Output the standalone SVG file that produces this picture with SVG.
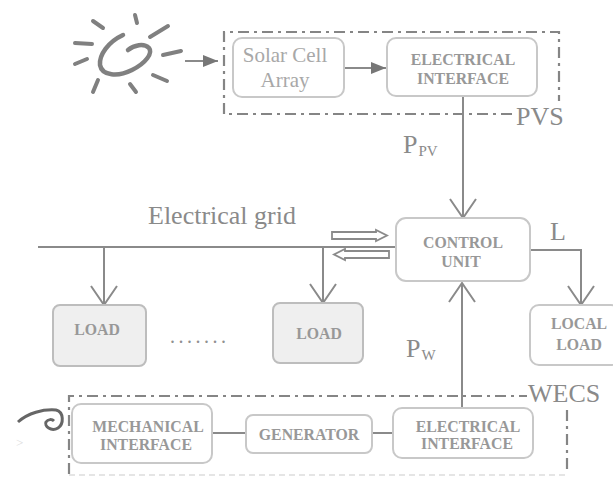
<svg xmlns="http://www.w3.org/2000/svg" width="613" height="478" viewBox="0 0 613 478">
<defs>
<marker id="v" markerUnits="userSpaceOnUse" markerWidth="30" markerHeight="30" refX="26" refY="15" orient="auto"><path d="M7 2L26 15L7 28" fill="none" stroke="#8a8a8a" stroke-width="2"/></marker>
<marker id="t" markerUnits="userSpaceOnUse" markerWidth="18" markerHeight="14" refX="16" refY="7" orient="auto"><path d="M1 1L16 7L1 13Z" fill="#777"/></marker>
</defs>
<style>
text{font-family:"Liberation Serif",serif;fill:#777}
.b{font-size:15.8px;font-weight:bold;text-anchor:middle;fill:#989898}
.l{font-size:26px;fill:#8a8a8a}
.sub{font-size:15px}
.box{fill:#fff;stroke:#c8c8c8;stroke-width:2}
.gray{fill:#efefef;stroke:#bdbdbd;stroke-width:2}
.c{fill:none;stroke:#8a8a8a;stroke-width:2}
.d{fill:none;stroke:#858585;stroke-width:2.2;stroke-dasharray:11 5 3 5}
.dbl{fill:#fff;stroke:#8a8a8a;stroke-width:1.8}
.sun{fill:none;stroke:#808080;stroke-width:4;stroke-linecap:round}
</style>
<g id="sun">
<path class="sun" style="stroke-width:4.500" d="M123 35C108 42 99 55 100 65C102 76 118 77 132 70C146 63 153 53 149 48C144 43 134 45 128 50"/>
<path class="sun" d="M135 15L137 23M93 21L103 28M168 26L150 37M75 43L92 44M163 55L181 51M75 64L87 59M153 75L167 81M98 80L93 92M130 84L136 92"/>
</g>
<g id="pvs">
<path class="d" d="M512 114H224V32H559V101"/>
<text x="516" y="125" class="l">PVS</text>
</g>
<g id="wecs">
<path class="d" d="M69 474V396H527"/>
<path class="d" d="M567 410V474"/>
<path d="M69 475H567" fill="none" stroke="#ddd" stroke-width="1.500" stroke-dasharray="6 4"/>
<text x="528" y="402" class="l">WECS</text>
</g>
<g id="wind">
<path d="M18 422C28 413 43 409 56 410C64 412 64 424 58 428C51 432 44 426 46 422C48 419 52 419 54 421" fill="none" stroke="#666" stroke-width="3"/>
<text x="16" y="447" style="font-size:13px;fill:#ddd">&gt;</text>
</g>
<g id="connectors">
<path class="c" d="M344 68H386" marker-end="url(#t)"/>
<path class="c" d="M185 61H218" marker-end="url(#t)"/>
<path class="c" d="M463 97V218" marker-end="url(#v)"/>
<path class="c" d="M38 247H396"/>
<path class="c" d="M104 247V305" marker-end="url(#v)"/>
<path class="c" d="M323 247V303" marker-end="url(#v)"/>
<path class="c" d="M530 250H581V305" marker-end="url(#v)"/>
<path class="c" d="M462 408V283" marker-end="url(#v)"/>
<path class="c" d="M212 433H247M372 433H393"/>
<path class="dbl" d="M332 232H376V230L387 235.500L376 241V239H332Z"/>
<path class="dbl" d="M389 251H345V249L334 254.500L345 260V258H389Z"/>
</g>
<g id="solar"><rect class="box" x="233" y="38" width="111" height="59" rx="9"/><text x="285" y="62" text-anchor="middle" style="font-size:21px;fill:#a8a8a8">Solar Cell</text><text x="285" y="87" text-anchor="middle" style="font-size:21px;fill:#a8a8a8">Array</text></g>
<g id="pv-interface"><rect class="box" x="387" y="38" width="150" height="58" rx="9"/><text x="463" y="65" class="b">ELECTRICAL</text><text x="463" y="84" class="b">INTERFACE</text></g>
<g id="control"><rect class="box" x="396" y="218" width="134" height="63" rx="10"/><text x="463" y="248" class="b">CONTROL</text><text x="461" y="267" class="b">UNIT</text></g>
<g id="load1"><rect class="gray" x="53" y="305" width="93" height="61" rx="7"/><text x="97" y="335" class="b">LOAD</text></g>
<g id="load2"><rect class="gray" x="273" y="303" width="90" height="60" rx="7"/><text x="319" y="339" class="b">LOAD</text></g>
<g id="local"><rect class="box" x="530" y="305" width="90" height="60" rx="9"/><text x="579" y="329" class="b">LOCAL</text><text x="579" y="350" class="b">LOAD</text></g>
<g id="mech"><rect class="box" x="72" y="404" width="140" height="59" rx="9"/><text x="148" y="432" class="b">MECHANICAL</text><text x="146" y="450" class="b">INTERFACE</text></g>
<g id="gen"><rect class="box" x="246" y="415" width="126" height="38" rx="7"/><text x="309" y="440" class="b">GENERATOR</text></g>
<g id="wecs-interface"><rect class="box" x="393" y="408" width="140" height="50" rx="9"/><text x="468" y="432" class="b">ELECTRICAL</text><text x="467" y="449" class="b">INTERFACE</text></g>
<g id="labels">
<text x="148" y="224" style="font-size:26px;fill:#8a8a8a">Electrical grid</text>
<text x="403" y="153" class="l">P<tspan class="sub" dy="3" dx="1">PV</tspan></text>
<text x="406" y="357" class="l">P<tspan class="sub" dy="3" dx="1">W</tspan></text>
<text x="550" y="240" class="l">L</text>
<text x="170" y="343" style="font-size:20px;letter-spacing:3.500px;fill:#909090">.......</text>
</g>
</svg>
